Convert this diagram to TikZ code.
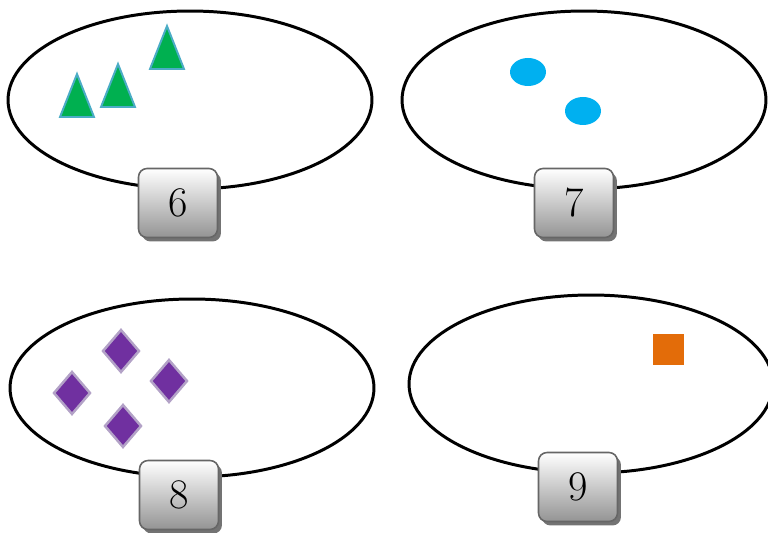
\documentclass[tikz,border=0pt]{standalone}
\usepackage{tikz}
\usetikzlibrary{shapes.geometric,shadows}
\definecolor{setTriGreen}{HTML}{00B050}
\definecolor{setTriEdge}{HTML}{4BACC6}
\definecolor{setDotBlue}{HTML}{00B0F0}
\definecolor{setGemPurple}{HTML}{7030A0}
\definecolor{setGemEdge}{HTML}{B3A2C7}
\definecolor{setSqOrange}{HTML}{E36C09}
\tikzset{
  setRing/.style={ellipse, draw=black, line width=1.7pt, minimum width=7.28cm, minimum height=3.56cm, inner sep=0pt},
  countBox/.style={rectangle, rounded corners=0.17cm, draw=black!60, line width=0.9pt,
    top color=white, bottom color=black!42, minimum width=1.58cm, minimum height=1.38cm,
    font=\fontsize{24}{28}\selectfont,
    drop shadow={shadow xshift=0.07cm, shadow yshift=-0.08cm, fill=black!55, opacity=1}}
}

\begin{document}
\begin{tikzpicture}[x=0.02cm, y=-0.02cm]
            \useasboundingbox (0,0) rectangle (768,533);
            % the four sets
            \node[setRing] (ringSix) at (190,100) {};
            \node[setRing] (ringSeven) at (584,100) {};
            \node[setRing] (ringEight) at (192,388) {};
            \node[setRing] (ringNine) at (591,384) {};
            % triangles
            \foreach \x/\y in {77/74, 118/64, 167/26}
                \filldraw[fill=setTriGreen, draw=setTriEdge, line width=1.1pt] (\x,\y) -- (\x+17,\y+43) -- (\x-17,\y+43) -- cycle;
            % dots
            \fill[setDotBlue] (528,72) ellipse (18 and 14);
            \fill[setDotBlue] (583,111) ellipse (18 and 14);
            % diamonds
            \foreach \x/\y in {121/351, 72/393, 169/381, 123/426}
                \filldraw[fill=setGemPurple, draw=setGemEdge, line width=1.4pt] (\x,\y-21) -- (\x+18,\y) -- (\x,\y+21) -- (\x-18,\y) -- cycle;
            % square
            \fill[setSqOrange] (653,334) rectangle (684,365);
            % counts
            \node[countBox] (countSix) at (178,203) {6};
            \node[countBox] (countSeven) at (574,203) {7};
            \node[countBox] (countEight) at (179,495) {8};
            \node[countBox] (countNine) at (578,487) {9};
        \end{tikzpicture}
\end{document}
